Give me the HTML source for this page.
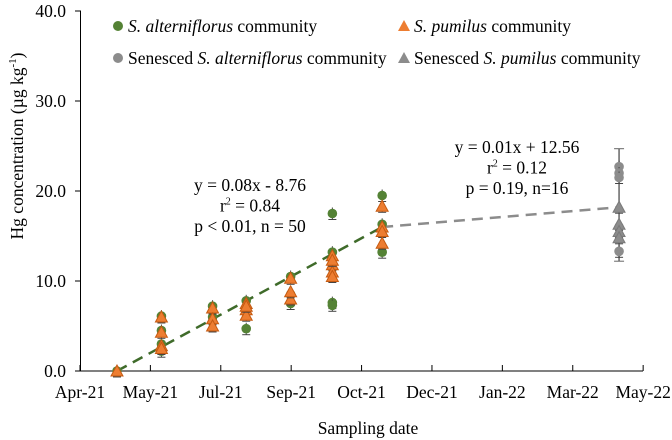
<!DOCTYPE html>
<html><head><meta charset="utf-8"><style>
body{margin:0;background:#fff}
svg{font-family:"Liberation Serif",serif;display:block}
</style></head><body>
<svg id="c" width="672" height="440"></svg>
<script>
const yTicks=[0,10,20,30,40];
const xLabels=["Apr-21","May-21","Jul-21","Sep-21","Oct-21","Dec-21","Jan-22","Mar-22","May-22"];
const xTickDays=[-13.5,38.8,91.1,143.4,195.7,248,300.3,352.6,404.9];
const groupDays=[14,47,85,110,143,174,211];
const saValues=[[0],[6.1,4.5,3.0,2.5,2.2],[7.2,6.0,5.5],[4.7,7.8,6.5],[10.5,8.5,7.5],[17.5,13.2,7.6,7.3,11.5],[19.5,16.3,13.2]];
const spValues=[[0],[6.0,4.3,2.8,2.5],[7.0,5.8,5.0],[7.5,6.8,6.2,7.2],[10.3,8.0,8.8],[12.8,11.8,11.0,10.5,12.3],[18.3,16.0,15.5,14.2]];
const senDay=387;
const senSa=[22.7,22.0,21.5,16.0,13.3];
const senSp=[18.2,16.3,15.5,14.8];
const fit1=[14,0,211,16.0];
const fit2=[211,16.0,387,18.2];
const ns="http://www.w3.org/2000/svg";
const svg=document.getElementById('c');
const X=d=>117+(d-14)*1.346;
const Y=v=>371-v*9;
const FS=17.5;
function el(t,a,p){const e=document.createElementNS(ns,t);for(const k in a)e.setAttribute(k,a[k]);(p||svg).appendChild(e);return e;}
let ax=el('line',{x1:80,y1:371,x2:643,y2:371,stroke:'#000'});


let ay=el('line',{x1:80.5,y1:Y(40),x2:80.5,y2:371,stroke:'#000'});


yTicks.forEach(v=>{const t=el('text',{x:66,y:Y(v)+6,'text-anchor':'end','font-size':FS});t.textContent=v.toFixed(1);


const l=el('line',{x1:75,y1:Y(v),x2:81,y2:Y(v),stroke:'#000'});

});
xTickDays.forEach(d=>{const l=el('line',{x1:X(d),y1:371,x2:X(d),y2:365,stroke:'#000'});

});
xLabels.forEach((s,i)=>{const t=el('text',{x:X(xTickDays[i]),y:398,'text-anchor':'middle','font-size':FS});t.textContent=s;

});
let yt=el('text',{transform:'translate(23,146) rotate(-90)','text-anchor':'middle','font-size':FS});
yt.innerHTML='Hg concentration (µg kg<tspan font-size="11" dy="-7">-1</tspan><tspan dy="7">)</tspan>';


let xt=el('text',{x:368,y:434,'text-anchor':'middle','font-size':FS});xt.textContent='Sampling date';


let f1=el('line',{x1:X(fit1[0]),y1:Y(fit1[1]),x2:X(fit1[2]),y2:Y(fit1[3]),stroke:'#3f6b2a','stroke-width':2.5,'stroke-dasharray':'11,7'});


let f2=el('line',{x1:X(fit2[0]),y1:Y(fit2[1]),x2:X(fit2[2]),y2:Y(fit2[3]),stroke:'#8c8c8c','stroke-width':2.5,'stroke-dasharray':'11,7'});


function circ(x,v,fill,name){const g=el('g',{});
el('line',{x1:x,y1:Y(v)-6,x2:x,y2:Y(v)+6,stroke:'#444'},g);
el('line',{x1:x-4,y1:Y(v)+6,x2:x+4,y2:Y(v)+6,stroke:'#444'},g);
el('circle',{cx:x,cy:Y(v),r:4.8,fill:fill},g);

}
function tri(x,v,fill,stroke,name){const g=el('g',{});const y=Y(v);
el('line',{x1:x,y1:y-6,x2:x,y2:y+6,stroke:'#444'},g);
el('line',{x1:x-4,y1:y+6,x2:x+4,y2:y+6,stroke:'#444'},g);
el('polygon',{points:`${x},${y-6} ${x-6},${y+5} ${x+6},${y+5}`,fill:fill,stroke:stroke},g);

}
let eb=el('line',{x1:X(senDay),y1:Y(24.7),x2:X(senDay),y2:Y(12.2),stroke:'#666','stroke-width':1.5});


el('line',{x1:X(senDay)-5,y1:Y(24.7),x2:X(senDay)+5,y2:Y(24.7),stroke:'#666'});
el('line',{x1:X(senDay)-5,y1:Y(12.2),x2:X(senDay)+5,y2:Y(12.2),stroke:'#666'});
groupDays.forEach((d,i)=>{saValues[i].forEach(v=>circ(X(d),v,'#548235','sa-point'));});
groupDays.forEach((d,i)=>{spValues[i].forEach(v=>tri(X(d),v,'#ed7d31','#c55a11','sp-point'));});
senSa.forEach(v=>circ(X(senDay),v,'#8c8c8c','senesced-sa-point'));
senSp.forEach(v=>tri(X(senDay),v,'#8c8c8c','#7a7a7a','senesced-sp-point'));
function leg(x,y,shape,fill,html,name){const g=el('g',{});
if(shape==='c')el('circle',{cx:x,cy:y,r:5,fill:fill},g);else el('polygon',{points:`${x},${y-6} ${x-6},${y+5} ${x+6},${y+5}`,fill:fill},g);
const t=el('text',{x:x+10,y:y+6,'font-size':FS},g);t.innerHTML=html;

}
leg(118,26,'c','#548235','<tspan font-style="italic">S. alterniflorus</tspan> community','legend-sa');
leg(404,26,'t','#ed7d31','<tspan font-style="italic">S. pumilus</tspan> community','legend-sp');
leg(118,58,'c','#8c8c8c','Senesced <tspan font-style="italic">S. alterniflorus</tspan> community','legend-senesced-sa');
leg(404,58,'t','#8c8c8c','Senesced <tspan font-style="italic">S. pumilus</tspan> community','legend-senesced-sp');
function ann(x,y,lines,name){const t=el('text',{'text-anchor':'middle','font-size':FS});
lines.forEach((s,i)=>{const ts=el('tspan',{x:x,y:y+i*20.5},t);ts.innerHTML=s;});

}
ann(250,191,['y = 0.08x - 8.76','r<tspan font-size="10" dy="-7">2</tspan><tspan dy="7"> = 0.84</tspan>','p &lt; 0.01, n = 50'],'fit-annotation-growing');
ann(517,153,['y = 0.01x + 12.56','r<tspan font-size="10" dy="-7">2</tspan><tspan dy="7"> = 0.12</tspan>','p = 0.19, n=16'],'fit-annotation-senesced');
</script>
</body></html>
